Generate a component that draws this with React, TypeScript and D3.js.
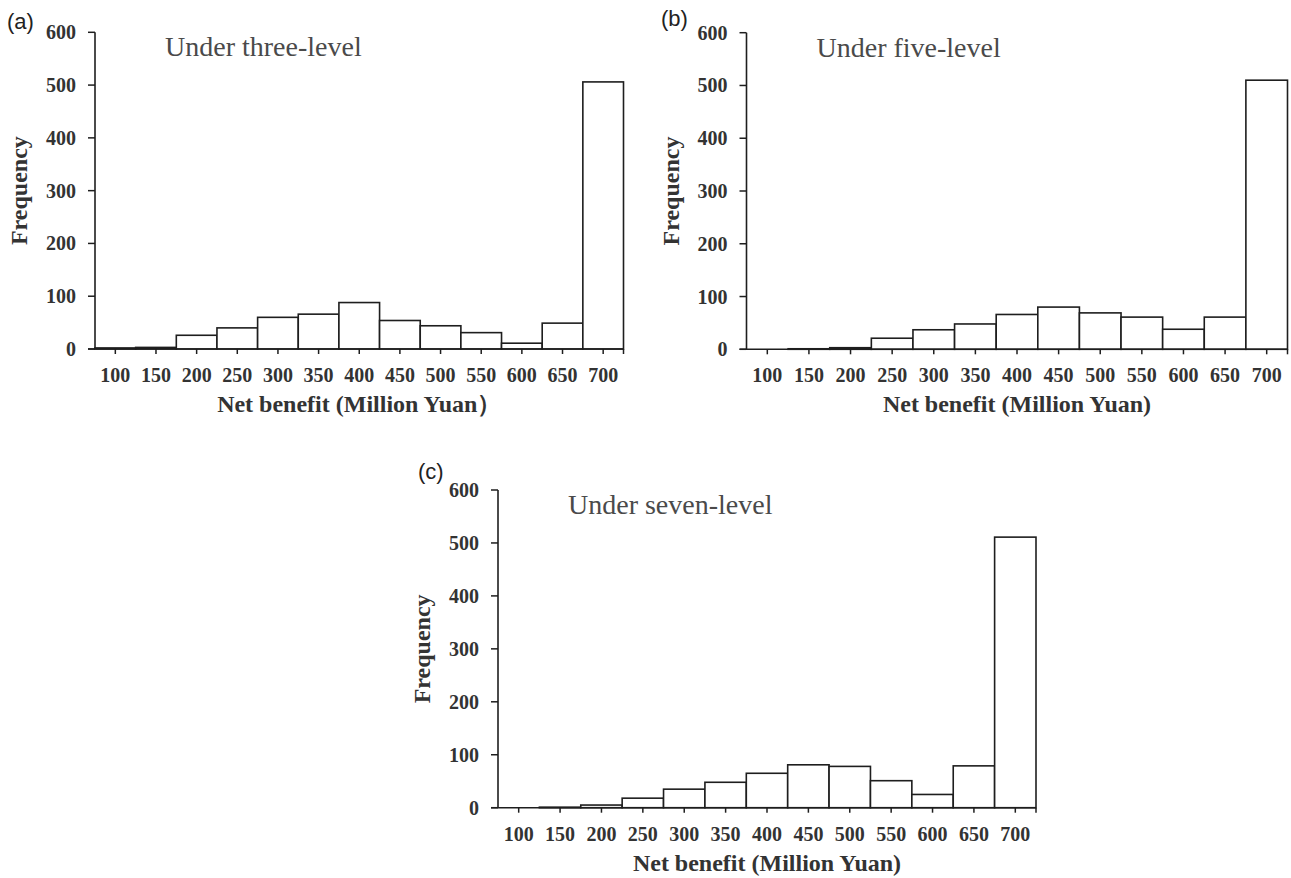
import React from "react";
import * as d3 from "d3";

const binCenters = [100, 150, 200, 250, 300, 350, 400, 450, 500, 550, 600, 650, 700];
const yTicks = [0, 100, 200, 300, 400, 500, 600];
const threeLevel = [2, 3, 26, 40, 60, 66, 88, 54, 44, 31, 11, 49, 506];
const fiveLevel = [0, 1, 3, 21, 37, 48, 66, 80, 69, 61, 38, 61, 510];
const sevenLevel = [0, 1, 5, 18, 35, 48, 65, 81, 78, 51, 25, 79, 511];

const panels = [
  { tag: "(a)", title: "Under three-level", xTitle: "Net benefit (Million Yuan\uFF09", values: threeLevel, left: 95, right: 623.5, top: 32.3, bottom: 349, tagX: 7, tagY: 29 },
  { tag: "(b)", title: "Under five-level", xTitle: "Net benefit (Million Yuan)", values: fiveLevel, left: 746.5, right: 1287.5, top: 32.7, bottom: 349.3, tagX: 661, tagY: 26 },
  { tag: "(c)", title: "Under seven-level", xTitle: "Net benefit (Million Yuan)", values: sevenLevel, left: 498, right: 1036, top: 490, bottom: 807.7, tagX: 418, tagY: 479 },
];

const SERIF = "'Liberation Serif', 'Times New Roman', serif";
const SANS = "'Liberation Sans', Arial, sans-serif";
const INK = "#1e1e1e";
const TXT = "#333";

function Panel({ p }: { p: typeof panels[number] }) {
  const x = d3.scaleLinear().domain([75, 725]).range([p.left, p.right]);
  const y = d3.scaleLinear().domain([0, 600]).range([p.bottom, p.top]);
  const midY = (p.top + p.bottom) / 2;
  const midX = (p.left + p.right) / 2;
  return (
    <g>
      <text x={p.tagX} y={p.tagY} fontFamily={SANS} fontSize={22} fill="#222">{p.tag}</text>
      <text x={p.left + 70} y={p.top + 24} fontFamily={SERIF} fontSize={28} fill="#4a4a4a">{p.title}</text>
      {binCenters.map((c, i) => (
        <rect key={c} x={x(c - 25)} y={y(p.values[i])} width={x(c + 25) - x(c - 25)} height={y(0) - y(p.values[i])}
          fill="#fff" stroke={INK} strokeWidth={1.6} />
      ))}
      <line x1={p.left} x2={p.left} y1={y(600)} y2={y(0)} stroke={INK} strokeWidth={1.6} />
      <line x1={p.left - 7} x2={p.right} y1={y(0)} y2={y(0)} stroke={INK} strokeWidth={1.6} />
      {yTicks.map((t) => (
        <g key={t}>
          <line x1={p.left - 7} x2={p.left} y1={y(t)} y2={y(t)} stroke={INK} strokeWidth={1.5} />
          <text x={p.left - 19} y={y(t)} dy="0.35em" textAnchor="end" fontFamily={SERIF} fontWeight="bold" fontSize={20} fill={TXT}>{t}</text>
        </g>
      ))}
      {binCenters.map((c) => (
        <g key={c}>
          <line x1={x(c)} x2={x(c)} y1={y(0)} y2={y(0) + 5} stroke={INK} strokeWidth={1.5} />
          <text x={x(c)} y={y(0) + 33} textAnchor="middle" fontFamily={SERIF} fontWeight="bold" fontSize={20} fill={TXT}>{c}</text>
        </g>
      ))}
      <line x1={p.right} x2={p.right} y1={y(0)} y2={y(0) + 5} stroke={INK} strokeWidth={1.5} />
      <text x={midX} y={y(0) + 63} textAnchor="middle" fontFamily={SERIF} fontWeight="bold" fontSize={24} fill={TXT}>{p.xTitle}</text>
      <text transform={`translate(${p.left - 68},${midY}) rotate(-90)`} textAnchor="middle" fontFamily={SERIF} fontWeight="bold" fontSize={24} fill={TXT}>Frequency</text>
    </g>
  );
}

export default function App() {
  return (
    <svg width={1291} height={878} style={{ position: "absolute", left: 0, top: 0, background: "#fff" }}>
      <rect width={1291} height={878} fill="#fff" />
      {panels.map((p) => <Panel key={p.tag} p={p} />)}
    </svg>
  );
}
